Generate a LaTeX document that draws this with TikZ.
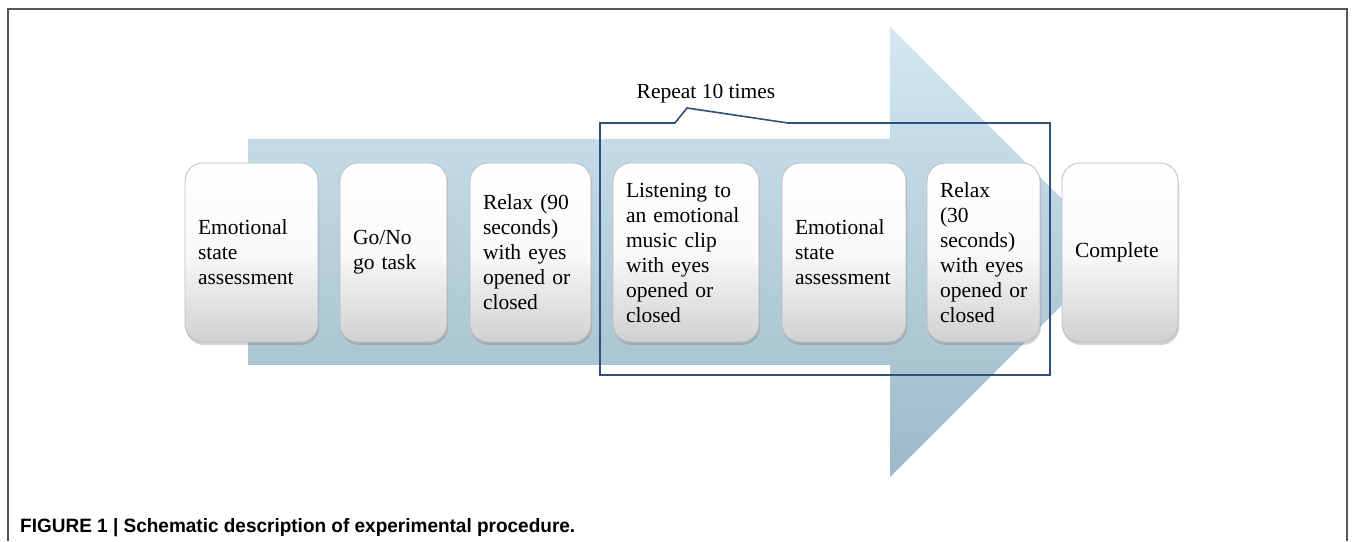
\documentclass[tikz,border=0pt]{standalone}
\usepackage{fontspec}
\usepackage{graphicx}
\setmainfont{Liberation Serif}
\newfontfamily\capfont{Liberation Sans}
\usetikzlibrary{shadows}
\definecolor{framegray}{HTML}{555555}
\definecolor{arrowtop}{HTML}{D2E7F1}
\definecolor{arrowbot}{HTML}{9DB9C8}
\definecolor{repblue}{HTML}{2F4F7D}
\definecolor{boxedge}{HTML}{BDBDBD}
\definecolor{boxbot}{HTML}{D0D0D0}
\tikzset{
  stepbox/.style={rectangle, rounded corners=18pt, draw=boxedge, line width=0.8pt,
    top color=white, bottom color=boxbot, middle color=white!88!boxbot,
    drop shadow={shadow xshift=1pt, shadow yshift=-3pt, opacity=0.35},
    minimum height=179pt, inner xsep=13pt, inner ysep=4pt, align=left,
    font=\fontsize{21.5pt}{25pt}\selectfont, anchor=center},
  lbl/.style={inner sep=0pt, font=\fontsize{21.5pt}{25pt}\selectfont}
}
\begin{document}
\begin{tikzpicture}[x=1pt,y=1pt]
\useasboundingbox (0,0) rectangle (1355,541);
\fill[white] (0,0) rectangle (1355,541);
% frame
\draw[framegray, line width=1.2pt] (8,0) -- (8,532) -- (1347,532) -- (1347,0);
% big arrow
\shade[top color=arrowtop, bottom color=arrowbot]
  (248,402) -- (890,402) -- (890,514) -- (1115,289) -- (890,64) -- (890,176) -- (248,176) -- cycle;
% boxes
\node[stepbox, minimum width=133pt, text width=107pt] (b1) at (251.5,288.5) {Emotional\\state\\assessment};
\node[stepbox, minimum width=107pt, text width=81pt] (b2) at (393.5,288.5) {Go/No\\go~task};
\node[stepbox, minimum width=121pt, text width=95pt] (b3) at (530.5,288.5) {Relax~(90\\seconds)\\with~eyes\\opened~or\\closed};
\node[stepbox, minimum width=146pt, text width=120pt] (b4) at (686,288.5) {Listening~to\\an~emotional\\music~clip\\with~eyes\\opened~or\\closed};
\node[stepbox, minimum width=124pt, text width=98pt] (b5) at (844,288.5) {Emotional\\state\\assessment};
\node[stepbox, minimum width=113pt, text width=87pt] (b6) at (983.5,288.5) {Relax\\(30\\seconds)\\with~eyes\\opened~or\\closed};
\node[stepbox, minimum width=116pt, text width=90pt] (b7) at (1120,288.5) {Complete};
% repeat callout
\coordinate (r1) at (600,418);
\coordinate (r2) at (675,418);
\coordinate (r3) at (687,433);
\coordinate (r4) at (788,418);
\coordinate (r5) at (1050,418);
\coordinate (r6) at (1050,166);
\coordinate (r7) at (600,166);
\draw[repblue, line width=1.6pt, line join=miter] (r1) -- (r2) -- (r3) -- (r4) -- (r5) -- (r6) -- (r7) -- cycle;
\node[lbl] (rep) at (706,447) {Repeat 10 times};
% caption
\node[anchor=base west, inner sep=0pt] (cap) at (20,9)
  {\resizebox{555pt}{14pt}{\capfont\bfseries\fontsize{18.5pt}{20pt}\selectfont FIGURE 1 | Schematic description of experimental procedure.}};
\end{tikzpicture}
\end{document}
